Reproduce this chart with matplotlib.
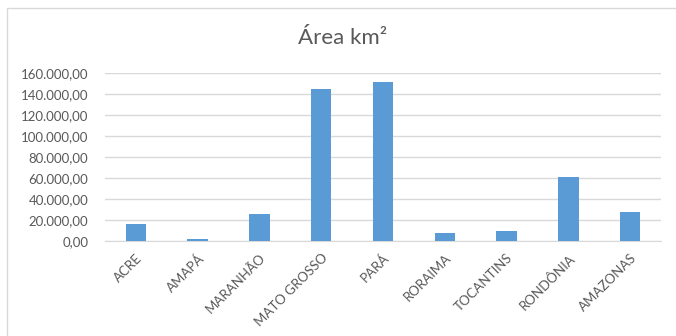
import matplotlib.pyplot as plt
from matplotlib.patches import Rectangle
from matplotlib.ticker import FuncFormatter

estados = ['ACRE', 'AMAPÁ', 'MARANHÃO', 'MATO GROSSO', 'PARÁ',
           'RORAIMA', 'TOCANTINS', 'RONDÔNIA', 'AMAZONAS']
area_km2 = [15600, 1600, 25500, 145000, 151500, 7700, 9300, 61200, 27200]
y_ticks = [0, 20000, 40000, 60000, 80000, 100000, 120000, 140000, 160000]

plt.rcParams['font.family'] = ['Lato', 'DejaVu Sans']
cinza = '#595959'

fig = plt.figure(figsize=(6.76, 3.36), dpi=100)
# moldura do gráfico (cortada à direita e embaixo)
fig.patches.append(Rectangle((7 / 676, -0.1), 1.2, (336 - 8) / 336 + 0.1,
                             transform=fig.transFigure, fill=False,
                             edgecolor='#d9d9d9', linewidth=1))

ax = fig.add_axes([105 / 676, (336 - 240.7) / 336, (661 - 105) / 676, (240.7 - 73) / 336])
x = range(len(estados))
ax.bar(x, area_km2, width=0.33, color='#5b9bd5', zorder=3)

ax.set_xlim(-0.5, len(estados) - 0.5)
ax.set_ylim(0, 160000)
ax.set_yticks(y_ticks)
ax.yaxis.set_major_formatter(FuncFormatter(
    lambda v, p: f'{v:,.2f}'.replace(',', 'X').replace('.', ',').replace('X', '.')))
ax.grid(axis='y', color='#d9d9d9', linewidth=1, zorder=0)
ax.set_xticks(list(x))
ax.set_xticklabels(estados, rotation=45, ha='right', rotation_mode='anchor')
ax.tick_params(axis='both', length=0, labelsize=9.5, colors=cinza, pad=8)
ax.tick_params(axis='y', pad=12)
for s in ['top', 'right', 'left']:
    ax.spines[s].set_visible(False)
ax.spines['bottom'].set_color('#d9d9d9')

fig.text(343 / 676, 1 - 38 / 336, 'Área km²', ha='center', va='center',
         fontsize=16, color=cinza)

fig.savefig('out.png', dpi=100)
